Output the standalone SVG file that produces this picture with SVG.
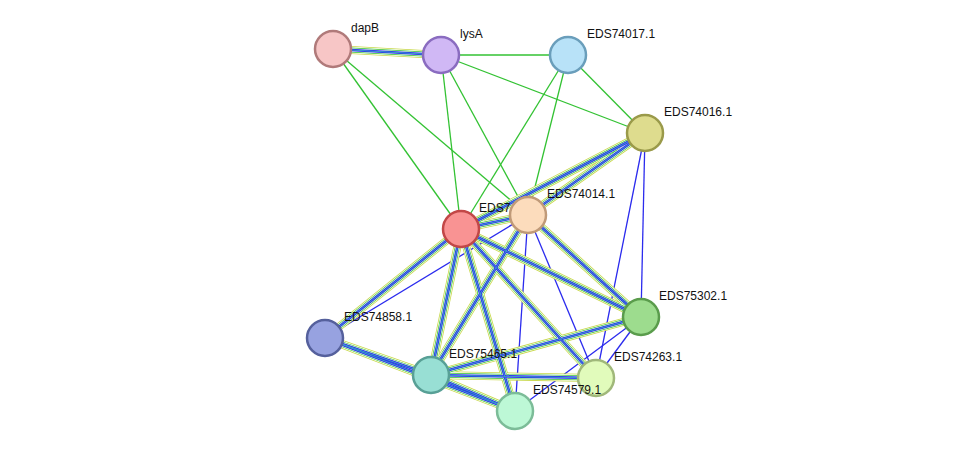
<svg xmlns="http://www.w3.org/2000/svg" xmlns:xlink="http://www.w3.org/1999/xlink" width="976" height="457" viewBox="0 0 976 457">
<style>
.g{stroke:#33c233;stroke-width:1.3;fill:none}
.b{stroke:#2b2bee;stroke-width:1.3;fill:none}
.m1{stroke:#c8d84a;stroke-width:8}
.m2{stroke:#fff;stroke-width:6.4}
.m3{stroke:#33c233;stroke-width:5}
.m4{stroke:#fff;stroke-width:3.6}
.m5{stroke:#2b2bee;stroke-width:2.6}
.m6{stroke:#3aa0c8;stroke-width:1}
.n{stroke-width:2.5}
text{font-family:"Liberation Sans",Arial,sans-serif;font-size:12px;fill:#111}
</style>
<defs>
<g id="multi">
<line id="e1" x1="333" y1="49" x2="441" y2="55"/>
<line id="e2" x1="645" y1="133" x2="461" y2="229"/>
<line id="e3" x1="645" y1="133" x2="528" y2="215"/>
<line id="e4" x1="461" y1="229" x2="528" y2="215"/>
<line id="e5" x1="461" y1="229" x2="325" y2="338"/>
<line id="e6" x1="461" y1="229" x2="431" y2="375"/>
<line id="e7" x1="461" y1="229" x2="515" y2="411"/>
<line id="e8" x1="461" y1="229" x2="596" y2="378"/>
<line id="e9" x1="461" y1="229" x2="641" y2="317"/>
<line id="e10" x1="528" y1="215" x2="431" y2="375"/>
<line id="e11" x1="528" y1="215" x2="641" y2="317"/>
<line id="e12" x1="325" y1="338" x2="431" y2="375"/>
<line id="e13" x1="325" y1="338" x2="515" y2="411"/>
<line id="e14" x1="431" y1="375" x2="515" y2="411"/>
<line id="e15" x1="431" y1="375" x2="596" y2="378"/>
<line id="e16" x1="431" y1="375" x2="641" y2="317"/>
</g>
</defs>
<rect width="976" height="457" fill="#fff"/>
<g id="connectors">
<line class="g" x1="441" y1="55" x2="568" y2="55"/>
<line class="g" x1="441" y1="55" x2="645" y2="133"/>
<line class="g" x1="441" y1="55" x2="461" y2="229"/>
<line class="g" x1="441" y1="55" x2="528" y2="215"/>
<line class="g" x1="333" y1="49" x2="461" y2="229"/>
<line class="g" x1="333" y1="49" x2="528" y2="215"/>
<line class="g" x1="568" y1="55" x2="645" y2="133"/>
<line class="g" x1="568" y1="55" x2="461" y2="229"/>
<line class="g" x1="568" y1="55" x2="528" y2="215"/>
<line class="b" x1="645" y1="133" x2="641" y2="317"/>
<line class="b" x1="645" y1="133" x2="596" y2="378"/>
<line class="b" x1="528" y1="215" x2="325" y2="338"/>
<line class="b" x1="528" y1="215" x2="515" y2="411"/>
<line class="b" x1="528" y1="215" x2="596" y2="378"/>
<line class="b" x1="515" y1="411" x2="641" y2="317"/>
<line class="b" x1="596" y1="378" x2="641" y2="317"/>
<use href="#multi" class="m1"/>
<use href="#multi" class="m2"/>
<use href="#multi" class="m3"/>
<use href="#multi" class="m4"/>
<use href="#multi" class="m5"/>
<use href="#multi" class="m6"/>
</g>
<g id="dapB"><circle class="n" cx="333" cy="49" r="18" fill="#f7c6c6" stroke="#b07a7a"/><text x="351" y="32">dapB</text></g>
<g id="lysA"><circle class="n" cx="441" cy="55" r="18" fill="#d0b8f5" stroke="#8a6cc0"/><text x="460" y="38">lysA</text></g>
<g id="EDS74017.1"><circle class="n" cx="568" cy="55" r="18" fill="#b8e2f8" stroke="#6a9ebb"/><text x="587" y="38">EDS74017.1</text></g>
<g id="EDS74016.1"><circle class="n" cx="645" cy="133" r="18" fill="#dedc8e" stroke="#9a9a4a"/><text x="664" y="116">EDS74016.1</text></g>
<g id="EDS7"><circle class="n" cx="461" cy="229" r="18" fill="#f99393" stroke="#c24747"/><text x="479" y="212">EDS7</text></g>
<g id="EDS74014.1"><circle class="n" cx="528" cy="215" r="18" fill="#fcdcbc" stroke="#c09a78"/><text x="547" y="198">EDS74014.1</text></g>
<g id="EDS74858.1"><circle class="n" cx="325" cy="338" r="18" fill="#97a2e0" stroke="#55609c"/><text x="344" y="321">EDS74858.1</text></g>
<g id="EDS75302.1"><circle class="n" cx="641" cy="317" r="18" fill="#9ddc8e" stroke="#5a9c4c"/><text x="659" y="300">EDS75302.1</text></g>
<g id="EDS74263.1"><circle class="n" cx="596" cy="378" r="18" fill="#e1fbbb" stroke="#a0b87a"/><text x="614" y="361">EDS74263.1</text></g>
<g id="EDS74579.1"><circle class="n" cx="515" cy="411" r="18" fill="#bdf8d6" stroke="#7cbc98"/><text x="533" y="394">EDS74579.1</text></g>
<g id="EDS75465.1"><circle class="n" cx="431" cy="375" r="18" fill="#98dfd4" stroke="#58a096"/><text x="449" y="358">EDS75465.1</text></g>
</svg>
